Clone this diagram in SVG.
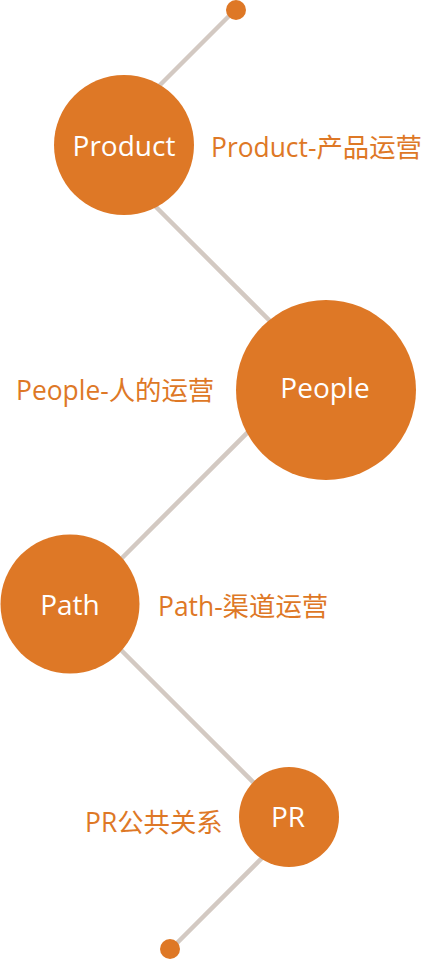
<svg xmlns="http://www.w3.org/2000/svg" width="423" height="959" viewBox="0 0 423 959">
<style>
.c{fill:#de7826}
.lbl{fill:#de7826;font-family:"Open Sans","Noto Sans CJK SC",sans-serif;font-size:26.4px}
.in{fill:#ffffff;font-family:"Open Sans","Noto Sans CJK SC",sans-serif;font-size:28px;text-anchor:middle}
.ln{stroke:#d3c9c2;stroke-width:4.5;fill:none}
</style>
<rect width="423" height="959" fill="#ffffff"/>
<g id="connectors">
<line class="ln" x1="236" y1="9" x2="150" y2="95"/>
<line class="ln" x1="150" y1="201" x2="290" y2="341"/>
<line class="ln" x1="280" y1="400" x2="100" y2="580"/>
<line class="ln" x1="100" y1="629" x2="270" y2="799"/>
<line class="ln" x1="280" y1="840" x2="170" y2="950"/>
</g>
<g id="dot-top"><circle class="c" cx="236" cy="10" r="10"/></g>
<g id="product">
<circle class="c" cx="124" cy="145" r="70"/>
<text class="in" x="124" y="156">Product</text>
<text class="lbl" x="211" y="157">Product-产品运营</text>
</g>
<g id="people">
<circle class="c" cx="326" cy="390" r="90"/>
<text class="in" x="325" y="398">People</text>
<text class="lbl" x="16" y="400">People-人的运营</text>
</g>
<g id="path">
<circle class="c" cx="70" cy="604" r="69.5"/>
<text class="in" x="70" y="615">Path</text>
<text class="lbl" x="158" y="616">Path-渠道运营</text>
</g>
<g id="pr">
<circle class="c" cx="289" cy="817" r="50"/>
<text class="in" x="288" y="827">PR</text>
<text class="lbl" x="85" y="832">PR公共关系</text>
</g>
<g id="dot-bottom"><circle class="c" cx="170" cy="949" r="10"/></g>
</svg>
